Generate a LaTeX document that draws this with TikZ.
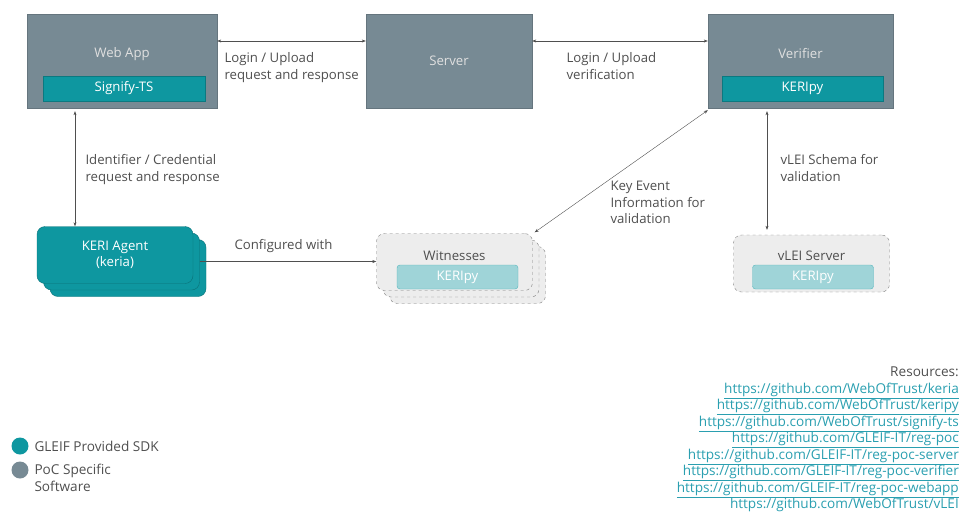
\documentclass[tikz,border=0pt]{standalone}
\usepackage{fontspec}
\setmainfont{Open Sans}
\usetikzlibrary{arrows.meta,calc,positioning}
\definecolor{poc}{HTML}{778A94}
\definecolor{sdk}{HTML}{0E97A0}
\definecolor{sdklight}{HTML}{9FD4D8}
\definecolor{extfill}{HTML}{EDEDED}
\definecolor{txt}{HTML}{4F4F4F}
\definecolor{link}{HTML}{2A9FB0}
\tikzstyle{pocbox}=[fill=poc, draw=poc!85!black, text=white!88!black,
    minimum width=#1, minimum height=94pt]
\tikzstyle{lib}=[fill=sdk, draw=sdk!80!black, text=white,
    minimum width=#1, minimum height=25pt]
\tikzstyle{agent}=[fill=sdk, draw=sdk!75!black, rounded corners=8pt, text=white,
    minimum width=156pt, minimum height=57pt]
\tikzstyle{ext}=[fill=extfill, draw=gray, dashed, rounded corners=8pt,
    minimum width=156pt, minimum height=57pt]
\tikzstyle{extlib}=[fill=sdklight, draw=sdk!70, rounded corners=3pt, text=white,
    minimum width=121pt, minimum height=24pt]
\tikzstyle{ann}=[anchor=north west, align=left, text=txt]
\tikzstyle{conn}=[draw=txt, {Stealth[length=4pt,width=3pt]}-{Stealth[length=4pt,width=3pt]}]
\tikzstyle{dot}=[circle, minimum size=17pt, inner sep=0pt]

\begin{document}
\begin{tikzpicture}[x=1pt, y=-1pt, font=\fontsize{13.2}{16.5}\selectfont]
    \useasboundingbox (0,0) rectangle (961,512);
    % top row
    \node (webapp) [pocbox=190pt] at (122,61) {};
    \node (server) [pocbox=166pt] at (449,61) {Server};
    \node (verifier) [pocbox=185pt] at (800.5,61) {};
    \path (webapp.center)+(0,-7) node (webappt) [text=white!88!black] {Web App};
    \path (webapp.center)+(2,27.5) node (signify) [lib=162pt] {Signify-TS};
    \path (verifier.center)+(0,-7) node (verifiert) [text=white!88!black] {Verifier};
    \path (verifier.center)+(2,27.5) node (keripyv) [lib=161pt] {KERIpy};
    % agent stack
    \node (agent3) [agent] at (128,268) {};
    \node (agent2) [agent] at (121.5,261.5) {};
    \node (agent) [agent, align=center] at (115,255) {KERI Agent\\(keria)};
    % witnesses stack
    \node (wit3) [ext] at (467.5,275) {};
    \node (wit2) [ext] at (461,268.5) {};
    \node (wit) [ext] at (454.5,262) {};
    \path (wit.center)+(0,-6) node (witt) [text=txt] {Witnesses};
    \path (wit.center)+(3,15) node (keripyw) [extlib] {KERIpy};
    % vlei server
    \node (vlei) [ext] at (811.5,263.5) {};
    \path (vlei.center)+(0,-8) node (vleit) [text=txt] {vLEI Server};
    \path (vlei.center)+(1.5,13.5) node (keripyl) [extlib] {KERIpy};
    % connectors
    \draw [conn] ([yshift=20pt]webapp.east) -- ([yshift=20pt]server.west);
    \draw [conn] ([yshift=20pt]server.east) -- ([yshift=20pt]verifier.west);
    \draw [conn] ([xshift=-47pt,yshift=-3pt]webapp.south) -- ([xshift=-40pt]agent.north);
    \draw [conn, -{Stealth[length=4pt,width=3pt]}] (agent2.east) -- (agent2.east -| wit.west);
    \draw [conn] ([shift={(2pt,1pt)}]wit.north east) -- ([shift={(0pt,-2pt)}]verifier.south west);
    \draw [conn] ([xshift=-33.5pt,yshift=-3pt]verifier.south) -- ([xshift=-44.5pt,yshift=5pt]vlei.north);
    % labels
    \node (l1) [ann] at (221,49) {Login / Upload\\request and response};
    \node (l2) [ann] at (563,49) {Login / Upload\\verification};
    \node (l3) [ann] at (82,151) {Identifier / Credential\\request and response};
    \node (l4) [ann] at (231,236) {Configured with};
    \node (l5) [ann] at (607,178) {Key Event\\Information for\\validation};
    \node (l6) [ann] at (777,151) {vLEI Schema for\\validation};
    % legend
    \node (dsdk) [dot, fill=sdk] at (20,446) {};
    \node (dpoc) [dot, fill=poc] at (20,470) {};
    \node (lsdk) [ann, anchor=west, font=\fontsize{13.6}{16.5}\selectfont] at (31,446) {GLEIF Provided SDK};
    \node (lpoc) [ann, anchor=north west, font=\fontsize{13.6}{16.5}\selectfont] at (31,461) {PoC Specific\\Software};
    % resources
    \node (res) [anchor=north east, align=right, inner sep=2pt, text=txt,
        font=\fontsize{13.6}{16.5}\selectfont] at (961,365) {Resources:\\
        \color{link}\underline{https://github.com/WebOfTrust/keria}\\
        \color{link}\underline{https://github.com/WebOfTrust/keripy}\\
        \color{link}\underline{https://github.com/WebOfTrust/signify-ts}\\
        \color{link}\underline{https://github.com/GLEIF-IT/reg-poc}\\
        \color{link}\underline{https://github.com/GLEIF-IT/reg-poc-server}\\
        \color{link}\underline{https://github.com/GLEIF-IT/reg-poc-verifier}\\
        \color{link}\underline{https://github.com/GLEIF-IT/reg-poc-webapp}\\
        \color{link}\underline{https://github.com/WebOfTrust/vLEI}};
\end{tikzpicture}
\end{document}
